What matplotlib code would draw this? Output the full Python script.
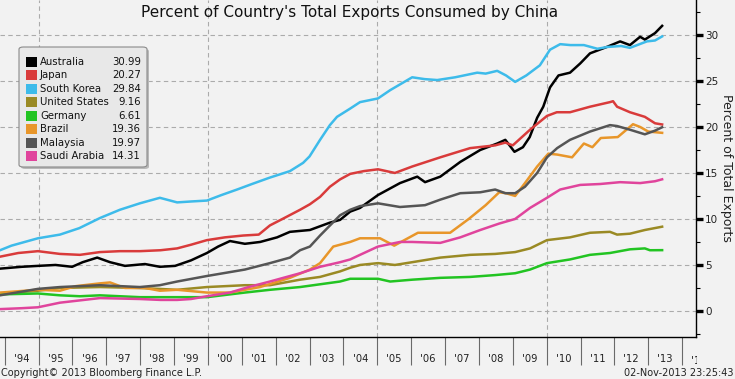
import matplotlib
matplotlib.use('Agg')
import matplotlib.pyplot as plt
import matplotlib.transforms as mtransforms
from matplotlib.patches import FancyBboxPatch, Rectangle
from matplotlib.ticker import FixedLocator, FixedFormatter, MultipleLocator

# ---------------- data ----------------
countries = ["Australia", "Japan", "South Korea", "United States",
             "Germany", "Brazil", "Malaysia", "Saudi Arabia"]
colors = ["#000000", "#d93b3b", "#3dbbea", "#9a8a24",
          "#22c422", "#e8962a", "#555555", "#e0449c"]
legend_values = [30.99, 20.27, 29.84, 9.16, 6.61, 19.36, 19.97, 14.31]

australia_t = [1993.86, 1994.5, 1994.98, 1995.5, 1995.99, 1996.3, 1996.73, 1997.11, 1997.55,
               1998.14, 1998.58, 1999.03, 1999.5, 1999.97, 2000.3, 2000.65, 2001.09, 2001.54,
               2002.04, 2002.42, 2003.01, 2003.6, 2003.9, 2004.2, 2004.49, 2005.02, 2005.67,
               2006.18, 2006.41, 2006.86, 2007.45, 2008.04, 2008.54, 2008.78, 2009.05, 2009.3,
               2009.5, 2009.72, 2009.9, 2010.1, 2010.35, 2010.69, 2010.99, 2011.28, 2011.78,
               2012.17, 2012.46, 2012.76, 2012.9, 2013.2, 2013.41]
australia_v = [4.6, 4.8, 4.9, 5.0, 4.8, 5.3, 5.8, 5.3, 4.9,
               5.1, 4.8, 4.9, 5.5, 6.3, 7.0, 7.6, 7.3, 7.5,
               8.0, 8.6, 8.8, 9.6, 9.9, 10.8, 11.2, 12.6, 13.9,
               14.6, 14.0, 14.6, 16.2, 17.5, 18.2, 18.6, 17.3, 17.8,
               18.9, 21.0, 22.2, 24.3, 25.6, 25.9, 26.9, 28.0, 28.7,
               29.3, 28.9, 29.8, 29.5, 30.2, 30.99]

japan_t = [1993.86, 1994.4, 1994.98, 1995.63, 1996.22, 1996.81, 1997.4, 1997.99, 1998.6,
           1999.09, 1999.5, 1999.97, 2000.5, 2001.04, 2001.5, 2001.83, 2002.2, 2002.72,
           2003.01, 2003.31, 2003.6, 2003.9, 2004.2, 2004.6, 2005.02, 2005.52, 2006.03,
           2006.86, 2007.74, 2008.48, 2008.78, 2009.0, 2009.51, 2010.01, 2010.3, 2010.69,
           2011.28, 2011.87, 2011.96, 2012.08, 2012.46, 2012.9, 2013.2, 2013.41]
japan_v = [5.9, 6.3, 6.5, 6.2, 6.1, 6.4, 6.5, 6.5, 6.6,
           6.8, 7.2, 7.7, 8.0, 8.2, 8.3, 9.3, 10.0, 11.0,
           11.6, 12.4, 13.5, 14.3, 14.9, 15.2, 15.4, 15.0, 15.7,
           16.7, 17.7, 18.0, 18.3, 18.0, 19.7, 21.2, 21.6, 21.6,
           22.2, 22.7, 22.8, 22.2, 21.6, 21.1, 20.4, 20.27]

korea_t = [1993.86, 1994.2, 1994.98, 1995.63, 1996.2, 1996.81, 1997.4, 1997.99, 1998.58,
           1999.09, 1999.5, 1999.97, 2000.4, 2000.86, 2001.3, 2001.83, 2002.42, 2002.81,
           2003.0, 2003.31, 2003.6, 2003.81, 2004.2, 2004.49, 2005.02, 2005.38, 2006.03,
           2006.4, 2006.77, 2007.3, 2007.95, 2008.2, 2008.54, 2008.8, 2009.07, 2009.4,
           2009.8, 2010.1, 2010.4, 2010.7, 2011.1, 2011.5, 2011.8, 2012.2, 2012.46,
           2012.96, 2013.2, 2013.41]
korea_v = [6.6, 7.1, 7.9, 8.3, 9.0, 10.1, 11.0, 11.7, 12.3,
           11.8, 11.9, 12.0, 12.6, 13.2, 13.8, 14.5, 15.2, 16.1,
           16.8, 18.6, 20.2, 21.1, 22.0, 22.7, 23.1, 24.0, 25.4,
           25.2, 25.1, 25.4, 25.9, 25.8, 26.1, 25.6, 24.9, 25.6,
           26.7, 28.4, 29.0, 28.9, 28.9, 28.5, 28.7, 28.8, 28.6,
           29.3, 29.4, 29.84]

us_t = [1993.86, 1994.98, 1995.63, 1996.81, 1997.99, 1999.09, 1999.97, 2001.09, 2001.83,
        2002.72, 2003.31, 2003.9, 2004.2, 2004.49, 2005.02, 2005.52, 2006.03, 2006.86,
        2007.74, 2008.48, 2009.07, 2009.51, 2010.01, 2010.69, 2011.28, 2011.87, 2012.08,
        2012.46, 2012.9, 2013.41]
us_v = [1.9, 2.2, 2.5, 2.6, 2.5, 2.3, 2.6, 2.8, 2.8,
        3.4, 3.7, 4.3, 4.7, 5.0, 5.2, 5.0, 5.3, 5.8,
        6.1, 6.2, 6.4, 6.8, 7.7, 8.0, 8.5, 8.6, 8.3,
        8.4, 8.8, 9.16]

germany_t = [1993.86, 1994.98, 1995.63, 1996.22, 1996.81, 1997.99, 1999.09, 1999.97, 2001.09,
             2001.83, 2002.72, 2003.31, 2003.9, 2004.2, 2005.02, 2005.38, 2006.03, 2006.86,
             2007.74, 2008.48, 2009.07, 2009.51, 2010.01, 2010.69, 2011.28, 2011.87, 2012.46,
             2012.9, 2013.05, 2013.41]
germany_v = [1.8, 1.9, 1.7, 1.6, 1.7, 1.5, 1.5, 1.5, 2.0,
             2.3, 2.6, 2.9, 3.2, 3.5, 3.5, 3.2, 3.4, 3.6,
             3.7, 3.9, 4.1, 4.5, 5.2, 5.6, 6.1, 6.3, 6.7,
             6.8, 6.6, 6.61]

brazil_t = [1993.86, 1994.98, 1995.63, 1996.1, 1996.81, 1997.11, 1997.55, 1998.14, 1998.58,
            1999.09, 1999.97, 2000.65, 2001.54, 2002.42, 2003.01, 2003.31, 2003.7, 2004.2,
            2004.49, 2005.08, 2005.5, 2006.2, 2006.86, 2007.15, 2007.7, 2008.2, 2008.6,
            2008.8, 2009.07, 2009.36, 2009.72, 2010.05, 2010.31, 2010.75, 2011.1, 2011.35,
            2011.6, 2012.1, 2012.55, 2012.76, 2013.0, 2013.41]
brazil_v = [2.0, 2.3, 2.2, 2.7, 3.0, 3.1, 2.5, 2.5, 2.2,
            2.3, 2.0, 2.0, 2.6, 3.6, 4.5, 5.2, 7.0, 7.5,
            7.9, 7.9, 7.1, 8.5, 8.5, 8.5, 10.0, 11.5, 12.9,
            12.8, 12.5, 13.9, 15.7, 17.1, 17.0, 16.7, 18.2, 17.8,
            18.8, 18.9, 20.3, 20.0, 19.5, 19.36]

malaysia_t = [1993.86, 1994.98, 1995.63, 1996.81, 1997.99, 1998.58, 1999.09, 1999.97, 2001.09,
              2001.83, 2002.42, 2002.72, 2003.01, 2003.31, 2003.9, 2004.2, 2004.49, 2005.02,
              2005.67, 2006.41, 2006.86, 2007.45, 2008.04, 2008.48, 2008.78, 2009.07, 2009.36,
              2009.72, 2010.01, 2010.31, 2010.69, 2011.28, 2011.87, 2012.08, 2012.46, 2012.9,
              2013.2, 2013.41]
malaysia_v = [1.7, 2.4, 2.6, 2.8, 2.6, 2.8, 3.2, 3.8, 4.5,
              5.2, 5.8, 6.6, 7.0, 8.2, 10.4, 11.0, 11.4, 11.7,
              11.3, 11.5, 12.1, 12.8, 12.9, 13.2, 12.8, 12.8, 13.5,
              15.0, 16.7, 17.7, 18.6, 19.5, 20.2, 20.1, 19.7, 19.2,
              19.6, 19.97]

saudi_t = [1993.86, 1994.5, 1994.98, 1995.63, 1996.81, 1997.99, 1998.6, 1999.09, 1999.5,
           1999.97, 2000.65, 2001.2, 2001.83, 2002.72, 2003.31, 2003.9, 2004.2, 2004.49,
           2005.02, 2005.67, 2006.03, 2006.86, 2007.45, 2008.04, 2008.6, 2009.07, 2009.51,
           2010.01, 2010.4, 2010.99, 2011.58, 2012.17, 2012.76, 2013.2, 2013.41]
saudi_v = [0.2, 0.3, 0.4, 0.9, 1.4, 1.3, 1.2, 1.2, 1.3,
           1.6, 2.0, 2.6, 3.2, 4.1, 4.8, 5.3, 5.6, 6.1,
           7.0, 7.5, 7.5, 7.4, 8.0, 8.8, 9.5, 10.0, 11.2,
           12.3, 13.2, 13.7, 13.8, 14.0, 13.9, 14.1, 14.31]

series_t = [australia_t, japan_t, korea_t, us_t, germany_t, brazil_t, malaysia_t, saudi_t]
series_v = [australia_v, japan_v, korea_v, us_v, germany_v, brazil_v, malaysia_v, saudi_v]

years = list(range(1994, 2015))
year_labels = ["'%02d" % (y % 100) for y in years]
y_major = [0, 5, 10, 15, 20, 25, 30]
grid_years = [1995, 2000, 2005, 2010]

title = "Percent of Country's Total Exports Consumed by China"
ylabel = "Percent of Total Exports"
copyright_txt = "Copyright\u00a9 2013 Bloomberg Finance L.P."
stamp_txt = "02-Nov-2013 23:25:43"

# ---------------- figure ----------------
W, H = 735, 379
BG = "#f2f2f2"
plt.rcParams['font.family'] = ['DejaVu Sans']

fig = plt.figure(figsize=(W / 100, H / 100), dpi=100, facecolor=BG)
ax = fig.add_axes([0, 42 / H, 696 / W, 337 / H])
ax.set_facecolor(BG)

ax.set_xlim(1993.86, 2014.41)
ax.set_ylim(-2.83, 33.8)

for s in ['left', 'top']:
    ax.spines[s].set_visible(False)
for s in ['right', 'bottom']:
    ax.spines[s].set_color('#000000')
    ax.spines[s].set_linewidth(1.0)

# grid
for yv in y_major:
    ax.axhline(yv, color='#ababab', lw=0.8, ls=(0, (4, 3)), zorder=1)
for gx in grid_years:
    ax.axvline(gx, color='#ababab', lw=0.8, ls=(0, (4, 3)), zorder=1)

# lines
for t, v, c in zip(series_t, series_v, colors):
    ax.plot(t, v, color=c, lw=1.8, zorder=3, solid_joinstyle='round')

# y axis on right
ax.yaxis.tick_right()
ax.yaxis.set_major_locator(FixedLocator(y_major))
ax.yaxis.set_minor_locator(MultipleLocator(2.5))
ax.tick_params(axis='y', which='major', direction='out', length=5, width=2.4,
               color='#000000', labelsize=7.5, pad=1.5, labelcolor='#222222')
ax.tick_params(axis='y', which='minor', direction='out', length=3, width=0.8,
               color='#000000')

# x axis: year separators and centred labels
ax.xaxis.set_major_locator(FixedLocator(years))
ax.xaxis.set_major_formatter(FixedFormatter([''] * len(years)))
ax.xaxis.set_minor_locator(FixedLocator([y + 0.5 for y in years]))
ax.xaxis.set_minor_formatter(FixedFormatter(year_labels))
ax.tick_params(axis='x', which='major', direction='out', length=20, width=0.8,
               color='#6a6a6a')
ax.tick_params(axis='x', which='minor', length=0, labelsize=7.2, pad=12.5,
               labelcolor='#222222')

# clipped last label (cut by the frame edge)
last = ax.text(years[-1] + 0.5, -0.0, year_labels[-1], transform=ax.get_xaxis_transform(),
               ha='center', va='top', fontsize=7.2, color='#222222')
last.set_y(-(18.5 / 337))
last.set_clip_box(mtransforms.Bbox.from_extents(0, 0, 697, H))
last.set_clip_on(True)

# title and labels
fig.text(350 / W, 1 - 13 / H, title, ha='center', va='center', fontsize=11, color='#111111')
fig.text(727 / W, 1 - 168 / H, ylabel, rotation=270, ha='center', va='center',
         fontsize=9, color='#222222')
fig.text(1 / W, 1 / H, copyright_txt, ha='left', va='bottom', fontsize=7, color='#222222')
fig.text(733 / W, 1 / H, stamp_txt, ha='right', va='bottom', fontsize=7, color='#222222')

# legend box
def fx(px):
    return px / W

def fy(py):
    return 1 - py / H

bx0, by0, bx1, by1 = 19, 47, 147, 167
shadow = FancyBboxPatch((fx(bx0 + 2), fy(by1 + 2)), fx(bx1 - bx0), (by1 - by0) / H,
                        boxstyle="round,pad=0,rounding_size=0.006",
                        transform=fig.transFigure, facecolor='#b8b8b8',
                        edgecolor='none', zorder=5)
box = FancyBboxPatch((fx(bx0), fy(by1)), fx(bx1 - bx0), (by1 - by0) / H,
                     boxstyle="round,pad=0,rounding_size=0.006",
                     transform=fig.transFigure, facecolor='#e8e8e8',
                     edgecolor='#8a8a8a', lw=0.8, zorder=6)
fig.add_artist(shadow)
fig.add_artist(box)
for i, (name, c, val) in enumerate(zip(countries, colors, legend_values)):
    cy = 61.7 + i * 13.5
    fig.add_artist(Rectangle((fx(26), fy(cy + 5)), fx(11), 10 / H,
                             transform=fig.transFigure, facecolor=c,
                             edgecolor='none', zorder=7))
    fig.text(fx(40), fy(cy), name, ha='left', va='center', fontsize=7.3,
             color='#111111', zorder=8)
    fig.text(fx(141), fy(cy), "%.2f" % val, ha='right', va='center', fontsize=7.3,
             color='#111111', zorder=8)

fig.savefig('out.png', dpi=100, facecolor=BG)
